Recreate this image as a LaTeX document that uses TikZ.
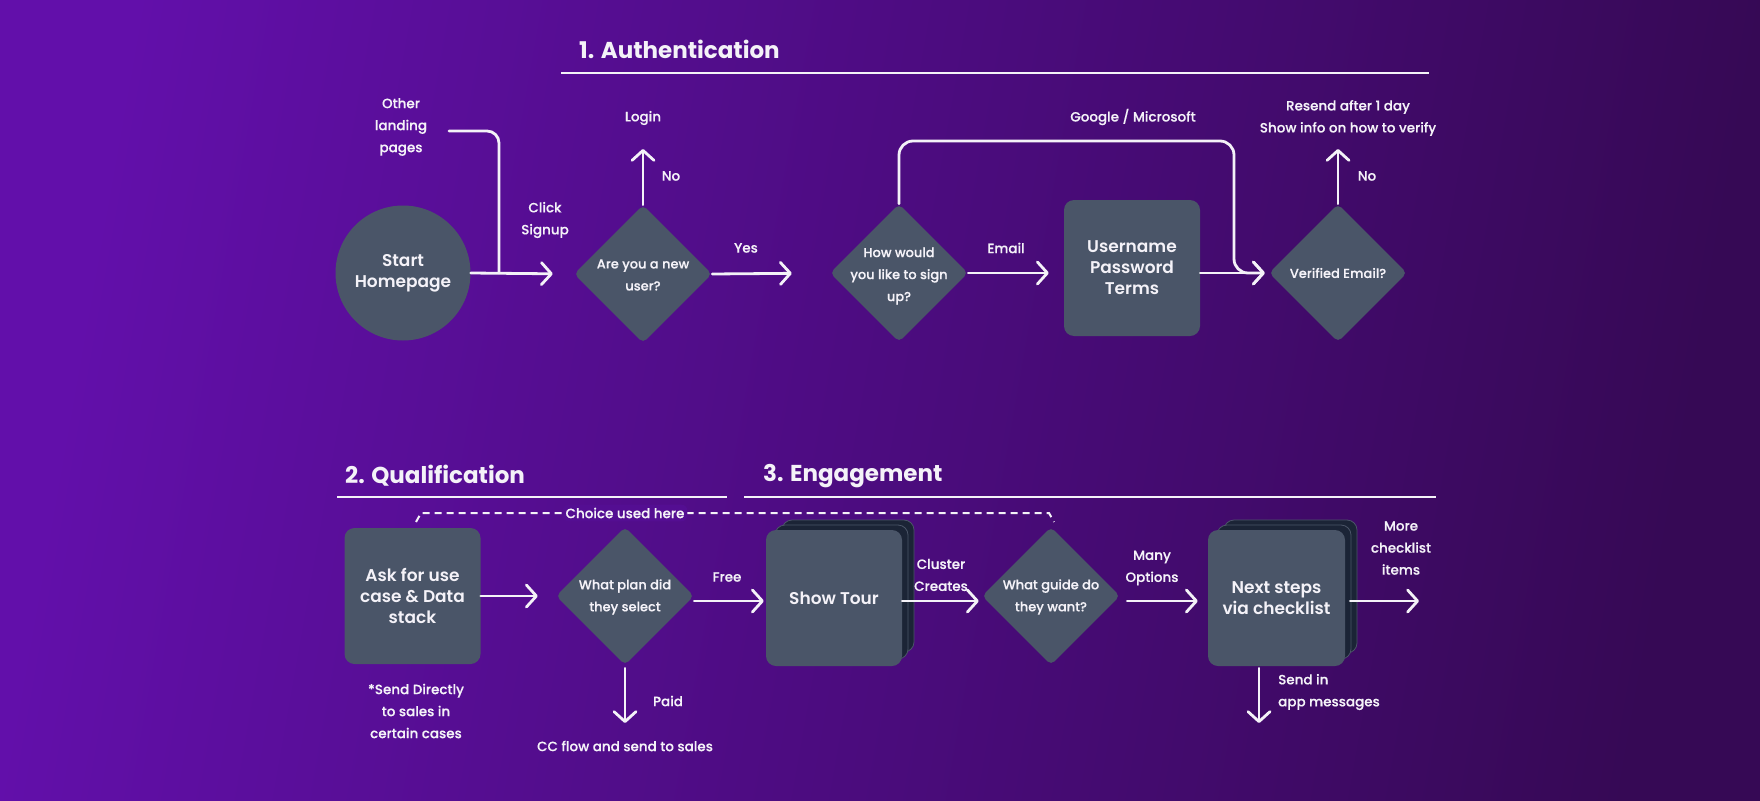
\documentclass[tikz,border=0pt]{standalone}
\usepackage{fontspec}
\setmainfont{Poppins}
\newfontfamily\pmed{Poppins Medium}[FakeBold=0.3]
\newfontfamily\psemi{Poppins SemiBold}
\usetikzlibrary{arrows.meta,shapes.geometric,calc}
\definecolor{bgA}{HTML}{620FAA}
\definecolor{bgB}{HTML}{360955}
\definecolor{nodefill}{HTML}{4A5568}
\definecolor{backfill}{HTML}{1B2436}
\definecolor{backline}{HTML}{4B5568}
\definecolor{txt}{HTML}{F4F2F8}
\definecolor{chipbg}{HTML}{540E92}
\begin{document}
\begin{tikzpicture}[x=1pt,y=-1pt,
  conn/.style={draw=txt, line width=2.8pt, line cap=round, line join=round},
  arr/.style={conn, -{Straight Barb[round,length=10pt,width=22pt]}},
  rule/.style={draw=txt, line width=1.8pt},
  dashline/.style={draw=txt, line width=2pt, dash pattern=on 7pt off 5pt},
  lbl/.style={text=txt, font=\pmed\fontsize{13.5}{22}\selectfont, align=center, inner sep=0pt},
  ttl/.style={text=txt, font=\bfseries\fontsize{23}{27}\selectfont, anchor=west, inner sep=0pt},
  boxtxt/.style={text=txt, font=\psemi\fontsize{17}{21}\selectfont, align=center},
  box/.style={boxtxt, fill=nodefill, rounded corners=10pt, minimum width=136pt, minimum height=136pt, inner sep=0pt},
  backbox/.style={fill=backfill, draw=backline, line width=0.8pt, rounded corners=10pt},
  dia/.style={diamond, aspect=1, fill=nodefill, minimum width=138pt, minimum height=138pt, inner sep=0pt, rounded corners=5pt},
  dtxt/.style={text=txt, font=\pmed\fontsize{13}{22}\selectfont, align=center, inner sep=0pt},
  chip/.style={text=txt, font=\pmed\fontsize{13.5}{16}\selectfont, fill=chipbg, rounded corners=6pt, inner sep=3pt}
]
\useasboundingbox (0,0) rectangle (1760,800);
\shade[left color=bgA, right color=bgB, shading angle=80] (0,0) rectangle (1760,800);

% ---------- titles ----------
\node[ttl] (t1) at (579,49) {1. Authentication};
\draw[rule] (561,73) -- (1429,73);
\node[ttl] (t2) at (345,476) {2. Qualification};
\draw[rule] (337,497) -- (727,497);
\node[ttl] (t3) at (763,476) {3. Engagement};
\draw[rule] (744,497) -- (1436,497);

% ---------- row 1 ----------
\node[circle, fill=nodefill, minimum size=135pt, inner sep=0pt, boxtxt] (start) at (403,273) {Start\\Homepage};
\node[dia] (d1) at (643,274) {};
\node[dtxt] (d1t) at (643,275) {Are you a new\\user?};
\node[dia] (d2) at (899,273) {};
\node[dtxt] (d2t) at (899,276) {How would\\you like to sign\\up?};
\node[box] (user) at (1132,268) {Username\\Password\\Terms};
\node[dia] (d3) at (1338,273) {};
\node[dtxt] (d3t) at (1338,273) {Verified Email?};

\node[lbl] (olp) at (401,127) {Other\\landing\\pages};
\node[lbl] (click) at (545,220) {Click\\Signup};
\node[lbl] (login) at (643,118) {Login};
\node[lbl] (no1) at (671,176) {No};
\node[lbl] (yes) at (746,248) {Yes};
\node[lbl] (email) at (1006,248) {Email};
\node[lbl] (gm) at (1133,117) {Google / Microsoft};
\node[lbl] (resend) at (1348,118) {Resend after 1 day\\Show info on how to verify};
\node[lbl] (no2) at (1367,176) {No};

\coordinate (olpend) at (449,131);
\coordinate (jn) at (499,273);
\coordinate (loginend) at (643,149);
\coordinate (resendend) at (1338,149);
\coordinate (gmc) at (1234,141);

\draw[conn, rounded corners=12pt] (olpend) -| (jn);
\draw[arr, shorten >=21pt] (start.east) -- (d1.west);
\draw[arr] (d1.north) -- (loginend);
\draw[arr, shorten >=38pt] (d1.east) -- (d2.west);
\draw[arr, shorten >=15pt] (d2.east) -- (d2.east -| user.west);
\draw[arr, shorten >=4pt] (d3.west -| user.east) -- (d3.west);
\draw[arr, rounded corners=14pt, shorten >=4pt] (d2.north) |- (gmc) |- (d3.west);
\draw[arr] (d3.north) -- (resendend);

% ---------- row 2 ----------
\node[box] (ask) at (412.5,596) {Ask for use\\case \& Data\\stack};
\node[dia] (plan) at (625,596) {};
\node[dtxt] (plant) at (625,597) {What plan did\\they select};

\draw[backbox] (782,520) rectangle (914,652);
\draw[backbox] (775,525) rectangle (908,659);
\node[box] (tour) at (834,598) {Show Tour};

\node[dia] (guide) at (1051,596) {};
\node[dtxt] (guidet) at (1051,597) {What guide do\\they want?};

\draw[backbox] (1224,520) rectangle (1357,653);
\draw[backbox] (1217,525) rectangle (1351,659);
\node[box, minimum width=137pt] (next) at (1276.5,598) {Next steps\\via checklist};

\node[lbl] (sendd) at (416,711) {*Send Directly\\to sales in\\certain cases};
\node[lbl] (free) at (727,577) {Free};
\node[lbl] (paid) at (668,701) {Paid};
\node[lbl] (cc) at (625,746) {CC flow and send to sales};
\node[lbl] (cluster) at (941,575) {Cluster\\Creates};
\node[lbl] (many) at (1152,568) {Many\\Options};
\node[lbl] (more) at (1401,548) {More\\checklist\\items};
\node[lbl, anchor=west, align=left] (sendin) at (1278,692) {Send in\\app messages};

\coordinate (cl) at (416,522);
\coordinate (cr) at (1054,522);
\draw[dashline] (cl) -- ++(5,-9) -- ($(cr)+(-5,-9)$) -- (cr);
\node[chip] (choice) at (625,513) {Choice used here};

\coordinate (paidend) at (625,723);
\coordinate (moreend) at (1419,601);
\coordinate (sendend) at (1259,723);

\draw[arr, shorten >=18pt] (ask.east) -- (plan.west);
\draw[arr, shorten >=2pt] ([yshift=-5pt]plan.east) -- ([yshift=-3pt]tour.west);
\draw[arr, shorten >=3pt] ([yshift=-3pt]tour.east) -- ([yshift=-5pt]guide.west);
\draw[arr, shorten <=7pt, shorten >=10pt] ([yshift=-5pt]guide.east) -- ([yshift=-3pt]next.west);
\draw[arr] ([yshift=-3pt,xshift=5pt]next.east) -- (moreend);
\draw[arr] ([yshift=-3pt]plan.south) -- (paidend);
\draw[arr] ([xshift=-17.5pt,yshift=-2pt]next.south) -- (sendend);
\end{tikzpicture}
\end{document}
